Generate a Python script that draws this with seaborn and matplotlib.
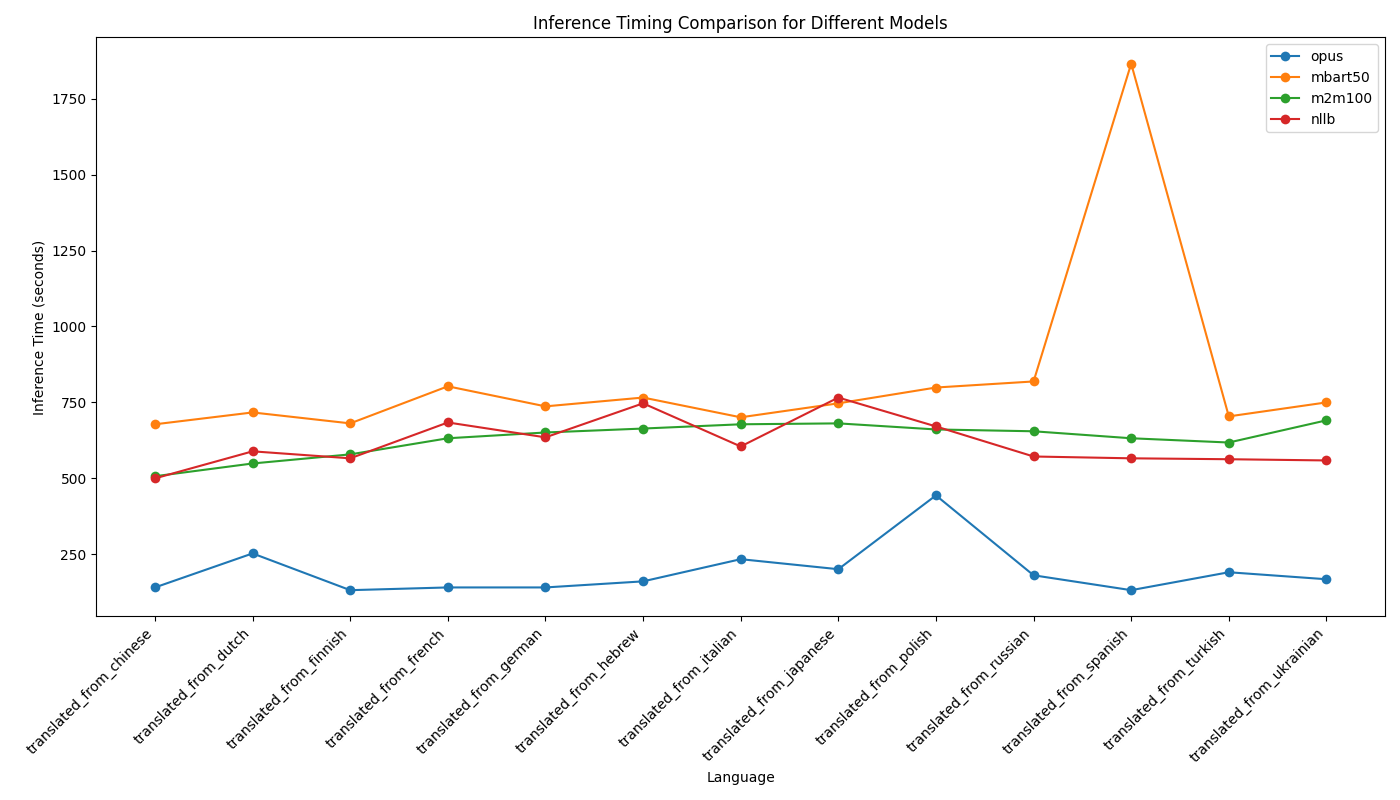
import matplotlib
matplotlib.use('Agg')
import matplotlib.pyplot as plt
import seaborn as sns
import pandas as pd

languages = ['chinese', 'dutch', 'finnish', 'french', 'german', 'hebrew', 'italian',
             'japanese', 'polish', 'russian', 'spanish', 'turkish', 'ukrainian']
labels = ['translated_from_' + l for l in languages]

opus = [141, 253, 132, 141, 141, 161, 234, 201, 444, 181, 132, 191, 168]
mbart50 = [678, 717, 681, 803, 737, 766, 701, 747, 799, 819, 1865, 704, 750]
m2m100 = [507, 549, 579, 632, 651, 664, 678, 681, 661, 655, 632, 618, 691]
nllb = [500, 589, 566, 684, 635, 747, 605, 766, 671, 572, 566, 563, 559]

models = {'opus': opus, 'mbart50': mbart50, 'm2m100': m2m100, 'nllb': nllb}
rows = []
for name, vals in models.items():
    for lab, v in zip(labels, vals):
        rows.append({'Language': lab, 'Inference Time (seconds)': v, 'Model': name})
df = pd.DataFrame(rows)

fig, ax = plt.subplots(figsize=(14, 8), dpi=100)
sns.lineplot(data=df, x='Language', y='Inference Time (seconds)', hue='Model',
             palette='tab10', marker='o', markersize=7, markeredgewidth=0,
             sort=False, ax=ax)
ax.set_title('Inference Timing Comparison for Different Models')
ax.set_xlabel('Language')
ax.set_ylabel('Inference Time (seconds)')
plt.xticks(rotation=45, ha='right')
ax.legend(loc='upper right')
plt.tight_layout()
plt.savefig('out.png', dpi=100)
plt.close()
